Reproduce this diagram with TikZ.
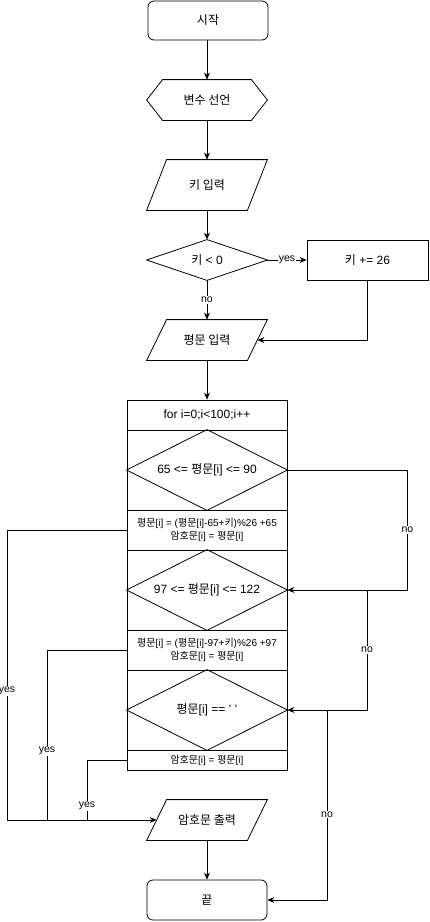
\documentclass[tikz,border=0pt]{standalone}
\usepackage{fontspec}
\setmainfont{Liberation Sans}
\newfontfamily\krf{Noto Sans CJK KR}
\newcommand\K[1]{{\krf #1}}
\usetikzlibrary{arrows.meta,calc}
\begin{document}
\begin{tikzpicture}[x=1pt,y=-1pt,line width=0.8pt,
  arr/.style={-{Stealth[length=7pt,width=6pt]}},
  base/.style={minimum width=120pt,minimum height=40pt,inner sep=0pt,font=\fontsize{12}{14}\selectfont},
  termbox/.style={base,draw,rounded corners=6pt},
  plainbox/.style={base,draw},
  hidbox/.style={base},
  rowbox/.style={draw,minimum width=160pt,inner sep=0pt,font=\fontsize{10}{12.5}\selectfont,align=center},
  lbl/.style={fill=white,inner sep=1pt,font=\fontsize{10.5}{12}\selectfont}
]
\useasboundingbox (0,0) rectangle (429,922);

% top chain
\node[termbox] (start) at (208,20.5) [minimum height=39pt] {\K{시작}};
\node[hidbox] (decl) at (207,100) {\K{변수 선언}};
\draw (decl.west) -- ($(decl.north west)+(16,0)$) -- ($(decl.north east)+(-16,0)$) -- (decl.east) -- ($(decl.south east)+(-16,0)$) -- ($(decl.south west)+(16,0)$) -- cycle;
\node[hidbox,minimum height=50pt] (kin) at (207,185) {\K{키 입력}};
\draw (kin.south west) -- ($(kin.north west)+(20,0)$) -- (kin.north east) -- ($(kin.south east)+(-20,0)$) -- cycle;
\node[hidbox] (dk) at (207,260) {\K{키} < 0};
\draw (dk.west) -- (dk.north) -- (dk.east) -- (dk.south) -- cycle;
\node[plainbox,minimum width=121pt] (add) at (367.5,260) {\K{키} += 26};
\node[hidbox] (pin) at (207,340) {\K{평문 입력}};
\draw (pin.south west) -- ($(pin.north west)+(20,0)$) -- (pin.north east) -- ($(pin.south east)+(-20,0)$) -- cycle;

% loop block
\node[rowbox,minimum height=30pt,font=\fontsize{12}{14}\selectfont] (forrow) at (207,415) {for i=0;i<100;i++};
\node[rowbox,minimum height=80pt,font=\fontsize{12}{14}\selectfont] (da) at (207,470) {65 <= \K{평문}[i] <= 90};
\draw (da.west) -- (da.north) -- (da.east) -- (da.south) -- cycle;
\node[rowbox,minimum height=40pt] (p1) at (207,530) {\K{평문}[i] = (\K{평문}[i]-65+\K{키})\%26 +65\\\K{암호문}[i] = \K{평문}[i]};
\node[rowbox,minimum height=80pt,font=\fontsize{12}{14}\selectfont] (db) at (207,590) {97 <= \K{평문}[i] <= 122};
\draw (db.west) -- (db.north) -- (db.east) -- (db.south) -- cycle;
\node[rowbox,minimum height=40pt] (p2) at (207,650) {\K{평문}[i] = (\K{평문}[i]-97+\K{키})\%26 +97\\\K{암호문}[i] = \K{평문}[i]};
\node[rowbox,minimum height=80pt,font=\fontsize{12}{14}\selectfont] (dc) at (207,710) {\K{평문}[i] == ' '};
\draw (dc.west) -- (dc.north) -- (dc.east) -- (dc.south) -- cycle;
\node[rowbox,minimum height=20pt] (p3) at (207,760) {\K{암호문}[i] = \K{평문}[i]};

% output and end
\node[hidbox] (pout) at (207,820) {\K{암호문 출력}};
\draw (pout.south west) -- ($(pout.north west)+(20,0)$) -- (pout.north east) -- ($(pout.south east)+(-20,0)$) -- cycle;
\node[termbox] (fin) at (207,900) {\K{끝}};

% main connectors
\draw[arr] (start.south -| decl.north) -- (decl.north);
\draw[arr] (decl.south) -- (kin.north);
\draw[arr] (kin.south) -- (dk.north);
\draw[arr] (dk.east) -- node[lbl]{yes} (add.west);
\draw[arr] (dk.south) -- node[lbl]{no} (pin.north);
\draw[arr] (add.south) |- ($(pin.east)+(-10,0)$);
\draw[arr] (pin.south) -- (forrow.north);
\draw[arr] (pout.south) -- (fin.north);

% right side (no)
\coordinate (j1) at (367,590);
\coordinate (j2) at (327,710);
\draw[arr] (da.east) -- ++(120,0) -- node[lbl]{no} ++(0,120) -- (db.east);
\draw[arr] (j1) -- node[lbl]{no} (j1 |- dc.east) -- (dc.east);
\draw[arr] (j2) -- node[lbl,pos=0.55]{no} (j2 |- fin.east) -- (fin.east);

% left side (yes)
\coordinate (L1) at (7,820);
\coordinate (L2) at (47,820);
\coordinate (L3) at (87,820);
\draw (p1.west) -- (p1.west -| L1) -- node[lbl,pos=0.555]{yes} (L1);
\draw (p2.west) -- (p2.west -| L2) -- node[lbl,pos=0.594]{yes} (L2);
\draw (p3.west) -- (p3.west -| L3) -- node[lbl,pos=0.77]{yes} (L3);
\draw[arr] (L1) -- ($(pout.west)+(10,0)$);
\end{tikzpicture}
\end{document}
